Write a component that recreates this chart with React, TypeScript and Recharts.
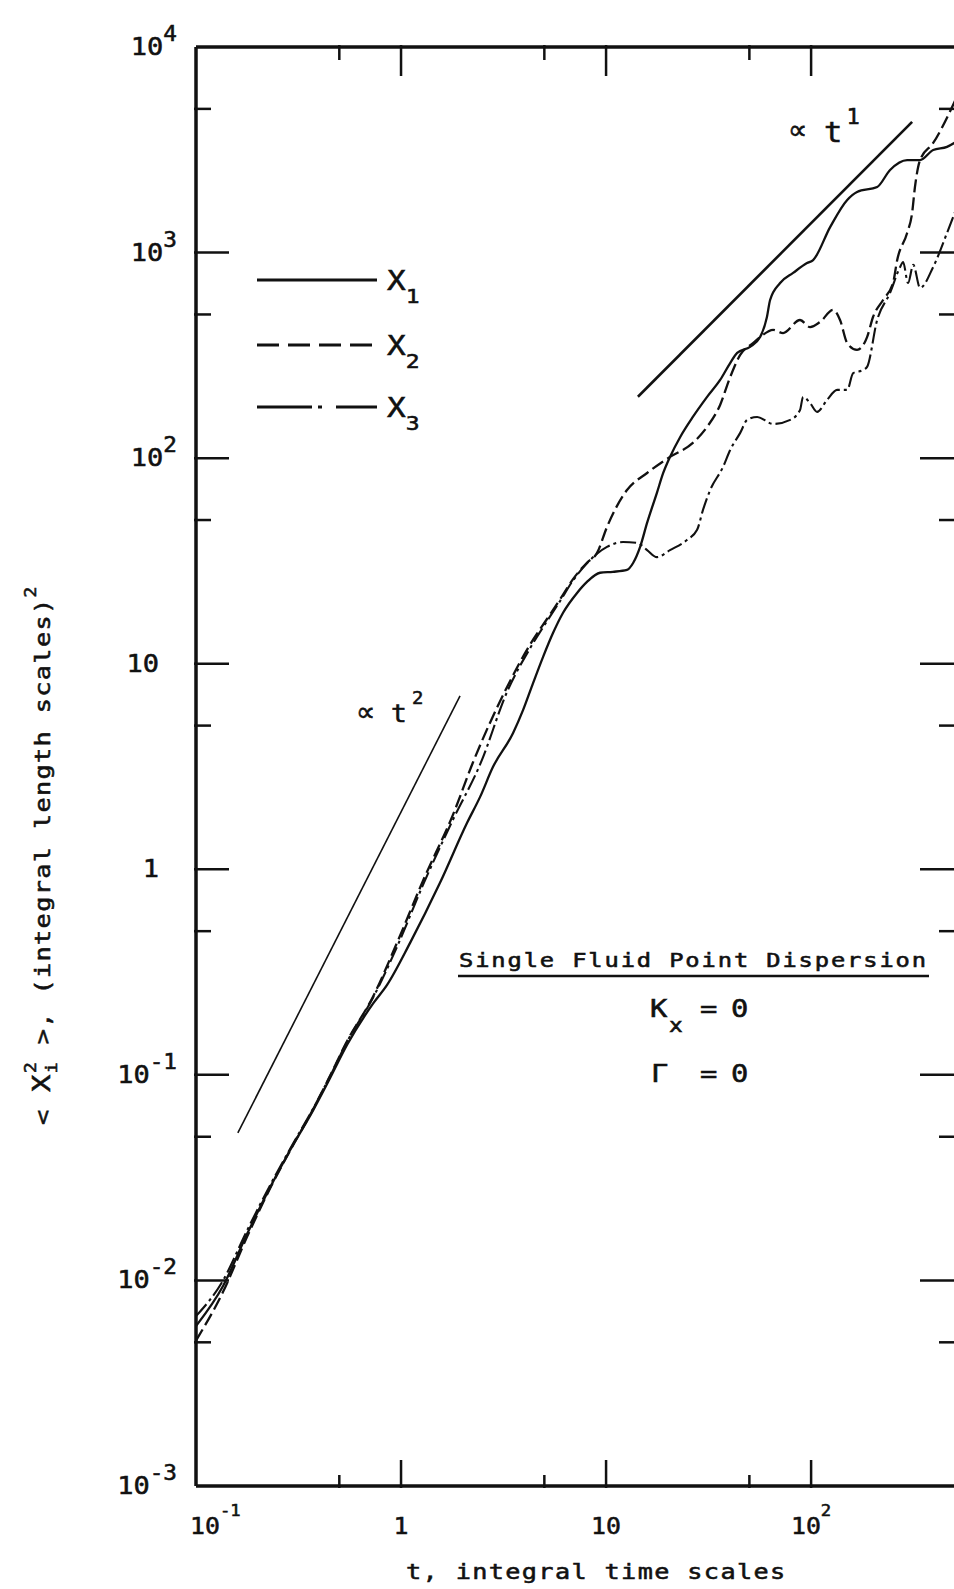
import type { ReactNode } from "react";
import { Line, LineChart, XAxis, YAxis } from "recharts";

document.body.style.margin = "0";
document.documentElement.style.overflow = "hidden";

const FONT = '"DejaVu Sans Mono", "Liberation Mono", monospace';
const MATH_FONT = '"DejaVu Sans", sans-serif';
const INK = "#111";

// <X1^2> — longitudinal component (solid)
const x1Time = [0.1, 0.1355, 0.1774, 0.2296, 0.2875, 0.3724, 0.4508, 0.5458, 0.7298, 0.855, 1.107, 1.549, 2.1, 2.43, 2.81, 3.52, 3.94, 4.41, 4.93, 5.51, 6.17, 7.22, 8.07, 9.35, 10.8, 12.65, 13.55, 14.66, 15.85, 17.7, 19.0, 20.5, 23.0, 26.5, 31.1, 36.0, 40.3, 43.6, 50.4, 56.4, 60.9, 63.1, 70.6, 81.7, 95.5, 102.3, 124, 150, 167.5, 210, 242.7, 294, 340, 394, 460, 509];
const x1Spread = [0.006, 0.0094, 0.0168, 0.0283, 0.043, 0.0672, 0.0965, 0.14, 0.222, 0.274, 0.4385, 0.859, 1.683, 2.25, 3.15, 4.6, 5.96, 8.07, 10.8, 14.1, 17.7, 22.1, 25.0, 27.7, 28.0, 28.6, 30.9, 37.0, 48.4, 67.8, 84.7, 101.4, 126.8, 158.6, 198.6, 240, 290, 325, 348, 388, 486, 588, 711, 796, 889, 920, 1334, 1803, 1972, 2084, 2523, 2818, 2818, 3155, 3266, 3450];

// <X2^2> (dashed)
const x2Time = [0.1, 0.1355, 0.1774, 0.2296, 0.2875, 0.3724, 0.4508, 0.5458, 0.7298, 0.966, 1.28, 1.795, 2.24, 3.29, 4.26, 5.15, 5.97, 6.9, 8.07, 9.04, 10.1, 12.65, 15.85, 20.5, 26.5, 31.1, 36.0, 40.3, 45.1, 52.1, 56.4, 65.3, 73.0, 88.3, 98.9, 110.7, 128, 138.4, 150, 167.5, 187.5, 200.5, 224.4, 251, 263, 294, 311, 321, 340, 394, 509];
const x2Spread = [0.0051, 0.0088, 0.0163, 0.028, 0.0428, 0.068, 0.099, 0.146, 0.24, 0.45, 0.88, 1.85, 3.3, 7.7, 12.4, 16.5, 20.6, 25.8, 31.0, 34.6, 46.2, 70.0, 84.7, 101.4, 118.6, 141.9, 181.5, 248, 318, 363, 388, 421, 406, 470, 434, 460, 526, 470, 363, 336, 388, 486, 588, 711, 920, 1245, 1560, 2084, 2818, 3413, 5600];

// <X3^2> (dash-dot)
const x3Time = [0.1, 0.1355, 0.1774, 0.2296, 0.2875, 0.3724, 0.4508, 0.5458, 0.7298, 0.966, 1.28, 1.795, 2.45, 3.29, 4.26, 5.15, 5.97, 6.9, 8.07, 10.1, 12.1, 14.2, 15.85, 17.7, 20.5, 24.8, 27.8, 29.7, 32.2, 37.2, 40.3, 45.1, 48.8, 54.6, 65.3, 79.1, 88.3, 91.4, 98.9, 107, 119.7, 134, 150, 160.3, 179.5, 187.5, 210, 242.7, 271.8, 281, 297, 315, 340, 394, 460, 509];
const x3Spread = [0.0067, 0.01, 0.0175, 0.029, 0.0436, 0.0685, 0.0985, 0.145, 0.237, 0.43, 0.84, 1.75, 3.3, 7.3, 11.9, 16.1, 20.2, 25.4, 30.8, 37.0, 39.1, 38.7, 35.7, 33.0, 35.7, 40.0, 44.8, 56.0, 70.0, 90.6, 109.6, 132.7, 153.5, 158.6, 146.6, 153.5, 171.4, 198.6, 185.4, 167.9, 191.9, 214.8, 214.8, 259, 268.7, 278, 470, 637, 851, 900, 711, 871, 673, 851, 1245, 1620];

// power-law guides
const slope2Time = [0.16, 1.94];
const slope2Spread = [0.0522, 6.97];
const slope1Time = [14.3, 311];
const slope1Spread = [199, 4320];

const xDomain = [0.1, 509];
const yDomain = [0.001, 10000];
const xTicks = [0.1, 0.5, 1, 5, 10, 50, 100];
const xTopTicks = [0.5, 1, 5, 10, 50, 100];
const xLabelValues = [0.1, 1, 10, 100];
const xLabelText = ["10^-1", "1", "10", "10^2"];
const yTicks = [0.001, 0.005, 0.01, 0.05, 0.1, 0.5, 1, 5, 10, 50, 100, 500, 1000, 5000, 10000];
const yLabelValues = [0.001, 0.01, 0.1, 1, 10, 100, 1000, 10000];
const yLabelText = ["10^-3", "10^-2", "10^-1", "1", "10", "10^2", "10^3", "10^4"];

const toPoints = (ts: number[], vs: number[]) => ts.map((t, i) => ({ t, v: vs[i] }));

const isDecade = (v: number) => Math.abs(Math.log10(v) - Math.round(Math.log10(v))) < 1e-9;
const isEdge = (v: number, d: number[]) => v <= d[0] * 1.0001 || v >= d[1] * 0.9999;

type TickProps = { x?: number; y?: number; payload?: { value: number } };
type Anchor = "start" | "middle" | "end";

// typewriter-ish text: monospace glyphs widened horizontally, inked a little heavier
function Typed(props: { x: number; y: number; size: number; stretch?: number; spacing?: number; rotate?: boolean; anchor?: Anchor; family?: string; children: ReactNode }) {
  const { x, y, size, stretch = 1.2, spacing = 0, rotate = false, anchor = "start", family = FONT } = props;
  const transform = `translate(${x} ${y})${rotate ? " rotate(-90)" : ""} scale(${stretch} 1)`;
  return (
    <text
      transform={transform}
      fontFamily={family}
      fontSize={size}
      letterSpacing={spacing}
      textAnchor={anchor}
      fill={INK}
      stroke={INK}
      strokeWidth={0.55}
      style={{ whiteSpace: "pre" }}
    >
      {props.children}
    </text>
  );
}

function Power(props: { x: number; y: number; text: string; size: number; supSize: number; rise: number; anchor: Anchor }) {
  const [base, exp] = props.text.split("^");
  return (
    <Typed x={props.x} y={props.y} size={props.size} stretch={1.08} anchor={props.anchor}>
      {base}
      {exp ? (
        <tspan dy={-props.rise} fontSize={props.supSize}>
          {exp}
        </tspan>
      ) : null}
    </Typed>
  );
}

function BottomTick({ x = 0, y = 0, payload }: TickProps) {
  const v = payload?.value ?? 1;
  const i = xLabelValues.indexOf(v);
  return (
    <g>
      {!isEdge(v, xDomain) && <line x1={x} x2={x} y1={y} y2={y - (isDecade(v) ? 28 : 13)} stroke={INK} strokeWidth={2.5} />}
      {i >= 0 && (
        <Power x={i === 0 ? x - 6 : x} y={y + 46} text={xLabelText[i]} size={23} supSize={16} rise={18} anchor={i === 0 ? "start" : "middle"} />
      )}
    </g>
  );
}

function TopTick({ x = 0, y = 0, payload }: TickProps) {
  const v = payload?.value ?? 1;
  return <line x1={x} x2={x} y1={y} y2={y + (isDecade(v) ? 31 : 15)} stroke={INK} strokeWidth={2.5} />;
}

function LeftTick({ x = 0, y = 0, payload }: TickProps) {
  const v = payload?.value ?? 1;
  const i = yLabelValues.indexOf(v);
  const text = i >= 0 ? yLabelText[i] : "";
  return (
    <g>
      {!isEdge(v, yDomain) && <line x1={x} x2={x + (isDecade(v) ? 35 : 17)} y1={y} y2={y} stroke={INK} strokeWidth={2.5} />}
      {i >= 0 && (
        <Power x={text.includes("^") ? 177 : 159} y={y + 8} text={text} size={25} supSize={21} rise={14} anchor="end" />
      )}
    </g>
  );
}

function RightTick({ x = 0, y = 0, payload }: TickProps) {
  const v = payload?.value ?? 1;
  if (isEdge(v, yDomain)) return <g />;
  return <line x1={x} x2={x - (isDecade(v) ? 38 : 19)} y1={y} y2={y} stroke={INK} strokeWidth={2.5} />;
}

const legendRows = [
  { sub: "1", dash: undefined as string | undefined, y: 280 },
  { sub: "2", dash: "22 9", y: 345 },
  { sub: "3", dash: "55 6 4 14", y: 407 },
];

function Notes() {
  return (
    <svg width={958} height={1589} style={{ position: "absolute", left: 0, top: 0, pointerEvents: "none" }}>
      {legendRows.map((r) => (
        <g key={r.sub}>
          <line x1={257} x2={377} y1={r.y} y2={r.y} stroke={INK} strokeWidth={3} strokeDasharray={r.dash} />
          <Typed x={387} y={r.y + 10} size={27} stretch={1.15}>
            X
            <tspan dy={13} fontSize={20}>
              {r.sub}
            </tspan>
          </Typed>
        </g>
      ))}

      <Typed x={356} y={721} size={27} stretch={1} family={MATH_FONT}>∝</Typed>
      <Typed x={391} y={722} size={25} stretch={1.05}>
        t<tspan dy={-18} dx={5} fontSize={18}>2</tspan>
      </Typed>

      <Typed x={788} y={139} size={27} stretch={1} family={MATH_FONT}>∝</Typed>
      <Typed x={824} y={142} size={29} stretch={1.05}>
        t<tspan dy={-18} dx={4} fontSize={21}>1</tspan>
      </Typed>

      <Typed x={459} y={967} size={19} stretch={1.25} spacing={1.5}>
        Single Fluid Point Dispersion
      </Typed>
      <line x1={458} x2={929} y1={976} y2={976} stroke={INK} strokeWidth={2.5} />

      <Typed x={650} y={1017} size={24}>K</Typed>
      <Typed x={669} y={1032} size={19}>x</Typed>
      <Typed x={700} y={1017} size={24}>=</Typed>
      <Typed x={731} y={1017} size={24}>0</Typed>

      <Typed x={651} y={1082} size={24}>Γ</Typed>
      <Typed x={700} y={1082} size={24}>=</Typed>
      <Typed x={731} y={1082} size={24}>0</Typed>

      <Typed x={406} y={1579} size={21} stretch={1.2} spacing={1.15}>
        t, integral time scales
      </Typed>

      <Typed x={50} y={1125} size={21} stretch={1.2} spacing={1.15} rotate>
        {"< "}
        <tspan fontSize={24}>X</tspan>
        <tspan fontSize={15} dy={7}>i</tspan>
        <tspan fontSize={15} dx={-10} dy={-21}>2</tspan>
        <tspan dy={14}>{" >, (integral length scales)"}</tspan>
        <tspan fontSize={15} dy={-14}>2</tspan>
      </Typed>
    </svg>
  );
}

const axisStroke = { stroke: INK, strokeWidth: 3.5 };

export default function App() {
  return (
    <div style={{ position: "relative", width: 958, height: 1589, background: "#fff" }}>
      <LineChart width={958} height={1589} margin={{ top: 0, right: 0, bottom: 0, left: 0 }}>
        <XAxis
          xAxisId="b"
          dataKey="t"
          type="number"
          scale="log"
          domain={xDomain}
          allowDataOverflow
          ticks={xTicks}
          interval={0}
          tickSize={0}
          tickLine={false}
          height={103}
          axisLine={axisStroke}
          tick={(p: TickProps) => <BottomTick {...p} />}
        />
        <XAxis
          xAxisId="t"
          orientation="top"
          dataKey="t"
          type="number"
          scale="log"
          domain={xDomain}
          allowDataOverflow
          ticks={xTopTicks}
          interval={0}
          tickSize={0}
          tickLine={false}
          height={47}
          axisLine={axisStroke}
          tick={(p: TickProps) => <TopTick {...p} />}
        />
        <YAxis
          yAxisId="l"
          type="number"
          scale="log"
          domain={yDomain}
          allowDataOverflow
          ticks={yTicks}
          interval={0}
          tickSize={0}
          tickLine={false}
          width={196}
          axisLine={axisStroke}
          tick={(p: TickProps) => <LeftTick {...p} />}
        />
        <YAxis
          yAxisId="r"
          orientation="right"
          type="number"
          scale="log"
          domain={yDomain}
          allowDataOverflow
          ticks={yTicks}
          interval={0}
          tickSize={0}
          tickLine={false}
          width={2}
          axisLine={axisStroke}
          tick={(p: TickProps) => <RightTick {...p} />}
        />

        <Line xAxisId="t" yAxisId="r" data={toPoints(slope2Time, slope2Spread)} dataKey="v" type="linear" stroke={INK} strokeWidth={1.6} dot={false} activeDot={false} isAnimationActive={false} />
        <Line xAxisId="t" yAxisId="r" data={toPoints(slope1Time, slope1Spread)} dataKey="v" type="linear" stroke={INK} strokeWidth={2.6} dot={false} activeDot={false} isAnimationActive={false} />

        <Line xAxisId="b" yAxisId="l" data={toPoints(x1Time, x1Spread)} dataKey="v" type="monotone" stroke={INK} strokeWidth={2.3} dot={false} activeDot={false} isAnimationActive={false} />
        <Line xAxisId="b" yAxisId="l" data={toPoints(x2Time, x2Spread)} dataKey="v" type="monotone" stroke={INK} strokeWidth={2.3} strokeDasharray="13 5" dot={false} activeDot={false} isAnimationActive={false} />
        <Line xAxisId="b" yAxisId="l" data={toPoints(x3Time, x3Spread)} dataKey="v" type="monotone" stroke={INK} strokeWidth={2.1} strokeDasharray="16 4 3 4" dot={false} activeDot={false} isAnimationActive={false} />
      </LineChart>
      <Notes />
    </div>
  );
}
